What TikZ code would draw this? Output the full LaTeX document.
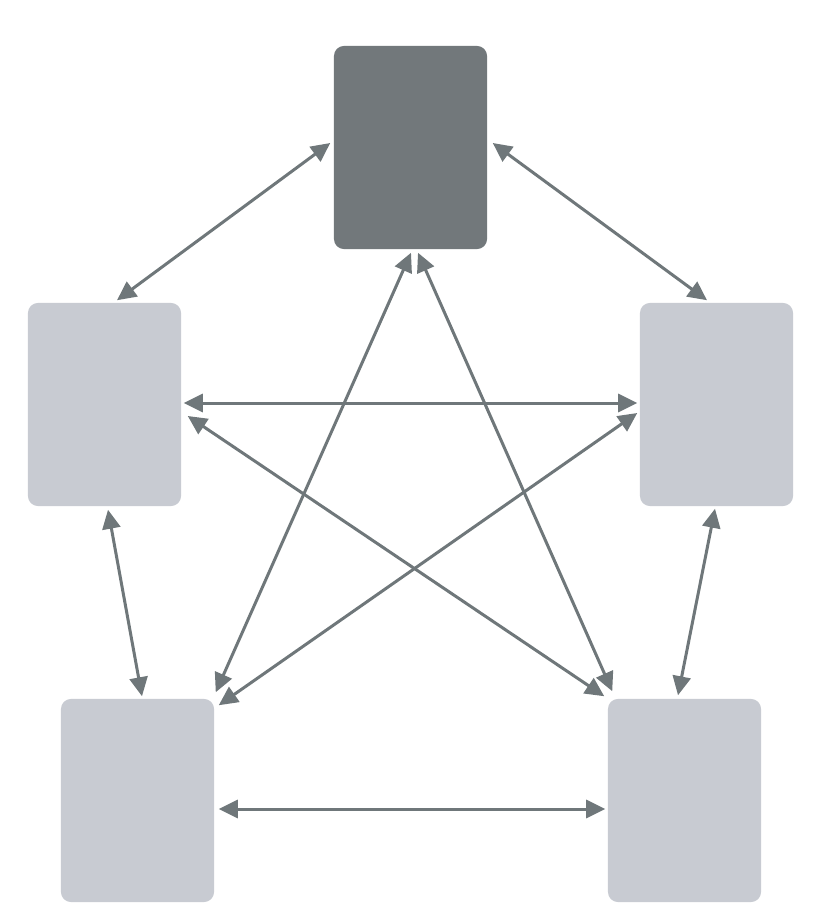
\documentclass[tikz,border=0pt]{standalone}
\usepackage{tikz}
\usetikzlibrary{arrows.meta,calc}

\definecolor{boxdark}{HTML}{72787B}
\definecolor{boxlight}{HTML}{C8CBD2}
\definecolor{linkgray}{HTML}{6F777A}

\begin{document}
\begin{tikzpicture}[
  x=0.01cm, y=-0.01cm,
  box/.style={rectangle, rounded corners=0.1cm, inner sep=0pt,
              minimum width=1.53cm, minimum height=2.03cm, fill=boxlight},
  link/.style={linkgray, line width=0.03cm,
               {Triangle[length=0.19cm, width=0.18cm]}-{Triangle[length=0.19cm, width=0.18cm]}}
]
  \useasboundingbox (0,0) rectangle (820,924);

  \node[box, fill=boxdark] (top) at (410.5,147.5) {};
  \node[box] (lft)  at (104.5,404.5) {};
  \node[box] (rgt)  at (716.5,404.5) {};
  \node[box] (botl) at (137.5,800.5) {};
  \node[box] (botr) at (684.5,800.5) {};

  \draw[link] ($(top.west)+(-3,-4.5)$) -- ($(lft.north)+(12.5,-2)$);
  \draw[link] ($(top.east)+(5,-4.5)$) -- ($(rgt.north)+(-9.5,-2)$);
  \draw[link] ($(lft.east)+(2,-1.5)$) -- ($(rgt.west)+(-2,-1.5)$);
  \draw[link] ($(lft.east)+(6,11.5)$) -- ($(botr.north west)+(-3,-2)$);
  \draw[link] ($(rgt.west)+(-2,8.5)$) -- ($(botl.north east)+(4,7)$);
  \draw[link] ($(top.south)+(0.5,3)$) -- ($(botl.north east)+(1,-6)$);
  \draw[link] ($(top.south)+(7.5,3)$) -- ($(botr.north west)+(5,-7)$);
  \draw[link] ($(lft.south)+(3.5,3)$) -- ($(botl.north)+(4.5,-2)$);
  \draw[link] ($(rgt.south)+(-1.5,2)$) -- ($(botr.north)+(-6.5,-3)$);
  \draw[link] ($(botl.east)+(4,8.5)$) -- ($(botr.west)+(-2,8.5)$);
\end{tikzpicture}
\end{document}
